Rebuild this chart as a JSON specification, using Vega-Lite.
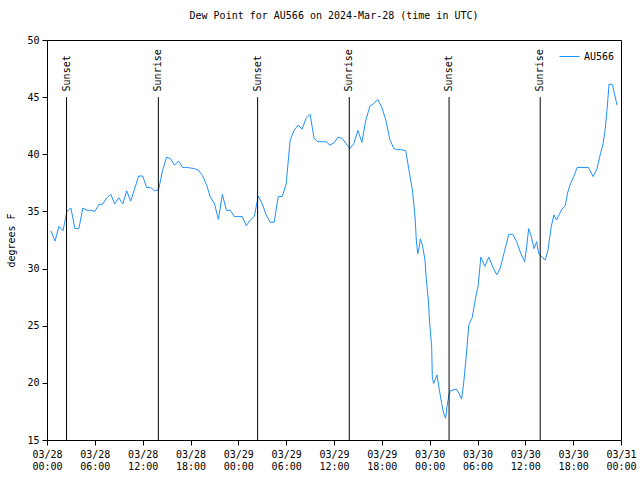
{
  "$schema": "https://vega.github.io/schema/vega-lite/v6.json",
  "width": 574,
  "height": 400,
  "autosize": "none",
  "padding": {"left": 47, "top": 40, "right": 19, "bottom": 40},
  "background": "white",
  "title": {"text": "Dew Point for AU566 on 2024-Mar-28 (time in UTC)", "font": "DejaVu Sans Mono", "fontSize": 10, "fontWeight": "normal", "color": "black", "offset": 14},
  "config": {
    "view": {"stroke": "black", "strokeWidth": 1},
    "axis": {"domain": false, "grid": false, "labelFont": "DejaVu Sans Mono", "labelFontSize": 10, "labelColor": "black", "tickColor": "black", "tickWidth": 1, "titleFont": "DejaVu Sans Mono", "titleFontSize": 10, "titleFontWeight": "normal", "titleColor": "black"}
  },
  "datasets": {
    "dew": [
      {"t": "2024-03-28T00:30:00Z", "v": 33.3, "s": "AU566"},
      {"t": "2024-03-28T01:00:00Z", "v": 32.4, "s": "AU566"},
      {"t": "2024-03-28T01:30:00Z", "v": 33.7, "s": "AU566"},
      {"t": "2024-03-28T02:00:00Z", "v": 33.3, "s": "AU566"},
      {"t": "2024-03-28T02:30:00Z", "v": 35.0, "s": "AU566"},
      {"t": "2024-03-28T03:00:00Z", "v": 35.3, "s": "AU566"},
      {"t": "2024-03-28T03:30:00Z", "v": 33.5, "s": "AU566"},
      {"t": "2024-03-28T04:00:00Z", "v": 33.5, "s": "AU566"},
      {"t": "2024-03-28T04:30:00Z", "v": 35.3, "s": "AU566"},
      {"t": "2024-03-28T05:00:00Z", "v": 35.1, "s": "AU566"},
      {"t": "2024-03-28T05:30:00Z", "v": 35.1, "s": "AU566"},
      {"t": "2024-03-28T06:00:00Z", "v": 35.0, "s": "AU566"},
      {"t": "2024-03-28T06:30:00Z", "v": 35.6, "s": "AU566"},
      {"t": "2024-03-28T07:00:00Z", "v": 35.65, "s": "AU566"},
      {"t": "2024-03-28T07:30:00Z", "v": 36.2, "s": "AU566"},
      {"t": "2024-03-28T08:00:00Z", "v": 36.5, "s": "AU566"},
      {"t": "2024-03-28T08:30:00Z", "v": 35.65, "s": "AU566"},
      {"t": "2024-03-28T09:00:00Z", "v": 36.2, "s": "AU566"},
      {"t": "2024-03-28T09:30:00Z", "v": 35.65, "s": "AU566"},
      {"t": "2024-03-28T10:00:00Z", "v": 36.8, "s": "AU566"},
      {"t": "2024-03-28T10:30:00Z", "v": 35.9, "s": "AU566"},
      {"t": "2024-03-28T11:00:00Z", "v": 37.0, "s": "AU566"},
      {"t": "2024-03-28T11:30:00Z", "v": 38.1, "s": "AU566"},
      {"t": "2024-03-28T12:00:00Z", "v": 38.1, "s": "AU566"},
      {"t": "2024-03-28T12:30:00Z", "v": 37.1, "s": "AU566"},
      {"t": "2024-03-28T13:00:00Z", "v": 37.1, "s": "AU566"},
      {"t": "2024-03-28T13:30:00Z", "v": 36.8, "s": "AU566"},
      {"t": "2024-03-28T14:00:00Z", "v": 36.9, "s": "AU566"},
      {"t": "2024-03-28T14:30:00Z", "v": 38.6, "s": "AU566"},
      {"t": "2024-03-28T15:00:00Z", "v": 39.75, "s": "AU566"},
      {"t": "2024-03-28T15:30:00Z", "v": 39.6, "s": "AU566"},
      {"t": "2024-03-28T16:00:00Z", "v": 39.05, "s": "AU566"},
      {"t": "2024-03-28T16:30:00Z", "v": 39.4, "s": "AU566"},
      {"t": "2024-03-28T17:00:00Z", "v": 38.85, "s": "AU566"},
      {"t": "2024-03-28T17:30:00Z", "v": 38.85, "s": "AU566"},
      {"t": "2024-03-28T18:00:00Z", "v": 38.8, "s": "AU566"},
      {"t": "2024-03-28T18:30:00Z", "v": 38.75, "s": "AU566"},
      {"t": "2024-03-28T19:00:00Z", "v": 38.6, "s": "AU566"},
      {"t": "2024-03-28T19:30:00Z", "v": 38.15, "s": "AU566"},
      {"t": "2024-03-28T20:00:00Z", "v": 37.35, "s": "AU566"},
      {"t": "2024-03-28T20:30:00Z", "v": 36.25, "s": "AU566"},
      {"t": "2024-03-28T21:00:00Z", "v": 35.7, "s": "AU566"},
      {"t": "2024-03-28T21:30:00Z", "v": 34.3, "s": "AU566"},
      {"t": "2024-03-28T22:00:00Z", "v": 36.5, "s": "AU566"},
      {"t": "2024-03-28T22:30:00Z", "v": 35.1, "s": "AU566"},
      {"t": "2024-03-28T23:00:00Z", "v": 35.1, "s": "AU566"},
      {"t": "2024-03-28T23:30:00Z", "v": 34.55, "s": "AU566"},
      {"t": "2024-03-29T00:00:00Z", "v": 34.55, "s": "AU566"},
      {"t": "2024-03-29T00:30:00Z", "v": 34.55, "s": "AU566"},
      {"t": "2024-03-29T01:00:00Z", "v": 33.75, "s": "AU566"},
      {"t": "2024-03-29T01:30:00Z", "v": 34.25, "s": "AU566"},
      {"t": "2024-03-29T02:00:00Z", "v": 34.55, "s": "AU566"},
      {"t": "2024-03-29T02:30:00Z", "v": 36.35, "s": "AU566"},
      {"t": "2024-03-29T03:00:00Z", "v": 35.65, "s": "AU566"},
      {"t": "2024-03-29T03:30:00Z", "v": 34.7, "s": "AU566"},
      {"t": "2024-03-29T04:00:00Z", "v": 34.05, "s": "AU566"},
      {"t": "2024-03-29T04:30:00Z", "v": 34.05, "s": "AU566"},
      {"t": "2024-03-29T05:00:00Z", "v": 36.3, "s": "AU566"},
      {"t": "2024-03-29T05:30:00Z", "v": 36.3, "s": "AU566"},
      {"t": "2024-03-29T06:00:00Z", "v": 37.4, "s": "AU566"},
      {"t": "2024-03-29T06:30:00Z", "v": 41.25, "s": "AU566"},
      {"t": "2024-03-29T07:00:00Z", "v": 42.1, "s": "AU566"},
      {"t": "2024-03-29T07:30:00Z", "v": 42.55, "s": "AU566"},
      {"t": "2024-03-29T08:00:00Z", "v": 42.2, "s": "AU566"},
      {"t": "2024-03-29T08:30:00Z", "v": 43.15, "s": "AU566"},
      {"t": "2024-03-29T09:00:00Z", "v": 43.5, "s": "AU566"},
      {"t": "2024-03-29T09:30:00Z", "v": 41.4, "s": "AU566"},
      {"t": "2024-03-29T10:00:00Z", "v": 41.1, "s": "AU566"},
      {"t": "2024-03-29T10:30:00Z", "v": 41.1, "s": "AU566"},
      {"t": "2024-03-29T11:00:00Z", "v": 41.1, "s": "AU566"},
      {"t": "2024-03-29T11:30:00Z", "v": 40.8, "s": "AU566"},
      {"t": "2024-03-29T12:00:00Z", "v": 41.0, "s": "AU566"},
      {"t": "2024-03-29T12:30:00Z", "v": 41.5, "s": "AU566"},
      {"t": "2024-03-29T13:00:00Z", "v": 41.4, "s": "AU566"},
      {"t": "2024-03-29T13:30:00Z", "v": 40.95, "s": "AU566"},
      {"t": "2024-03-29T14:00:00Z", "v": 40.5, "s": "AU566"},
      {"t": "2024-03-29T14:30:00Z", "v": 40.95, "s": "AU566"},
      {"t": "2024-03-29T15:00:00Z", "v": 42.1, "s": "AU566"},
      {"t": "2024-03-29T15:30:00Z", "v": 41.05, "s": "AU566"},
      {"t": "2024-03-29T16:00:00Z", "v": 43.0, "s": "AU566"},
      {"t": "2024-03-29T16:30:00Z", "v": 44.2, "s": "AU566"},
      {"t": "2024-03-29T17:00:00Z", "v": 44.45, "s": "AU566"},
      {"t": "2024-03-29T17:30:00Z", "v": 44.8, "s": "AU566"},
      {"t": "2024-03-29T18:00:00Z", "v": 44.1, "s": "AU566"},
      {"t": "2024-03-29T18:30:00Z", "v": 43.0, "s": "AU566"},
      {"t": "2024-03-29T19:00:00Z", "v": 41.3, "s": "AU566"},
      {"t": "2024-03-29T19:30:00Z", "v": 40.5, "s": "AU566"},
      {"t": "2024-03-29T20:00:00Z", "v": 40.4, "s": "AU566"},
      {"t": "2024-03-29T20:30:00Z", "v": 40.4, "s": "AU566"},
      {"t": "2024-03-29T21:00:00Z", "v": 40.3, "s": "AU566"},
      {"t": "2024-03-29T21:30:00Z", "v": 38.2, "s": "AU566"},
      {"t": "2024-03-29T21:50:00Z", "v": 36.9, "s": "AU566"},
      {"t": "2024-03-29T22:10:00Z", "v": 34.5, "s": "AU566"},
      {"t": "2024-03-29T22:20:00Z", "v": 32.4, "s": "AU566"},
      {"t": "2024-03-29T22:30:00Z", "v": 31.3, "s": "AU566"},
      {"t": "2024-03-29T22:40:00Z", "v": 31.8, "s": "AU566"},
      {"t": "2024-03-29T22:50:00Z", "v": 32.6, "s": "AU566"},
      {"t": "2024-03-29T23:05:00Z", "v": 32.05, "s": "AU566"},
      {"t": "2024-03-29T23:25:00Z", "v": 30.75, "s": "AU566"},
      {"t": "2024-03-29T23:35:00Z", "v": 29.0, "s": "AU566"},
      {"t": "2024-03-29T23:50:00Z", "v": 27.25, "s": "AU566"},
      {"t": "2024-03-30T00:00:00Z", "v": 25.2, "s": "AU566"},
      {"t": "2024-03-30T00:15:00Z", "v": 23.2, "s": "AU566"},
      {"t": "2024-03-30T00:20:00Z", "v": 20.5, "s": "AU566"},
      {"t": "2024-03-30T00:30:00Z", "v": 19.95, "s": "AU566"},
      {"t": "2024-03-30T00:55:00Z", "v": 20.7, "s": "AU566"},
      {"t": "2024-03-30T01:15:00Z", "v": 19.25, "s": "AU566"},
      {"t": "2024-03-30T01:30:00Z", "v": 18.2, "s": "AU566"},
      {"t": "2024-03-30T01:45:00Z", "v": 17.35, "s": "AU566"},
      {"t": "2024-03-30T02:00:00Z", "v": 16.9, "s": "AU566"},
      {"t": "2024-03-30T02:10:00Z", "v": 17.9, "s": "AU566"},
      {"t": "2024-03-30T02:25:00Z", "v": 18.95, "s": "AU566"},
      {"t": "2024-03-30T02:35:00Z", "v": 19.3, "s": "AU566"},
      {"t": "2024-03-30T03:20:00Z", "v": 19.45, "s": "AU566"},
      {"t": "2024-03-30T03:40:00Z", "v": 19.1, "s": "AU566"},
      {"t": "2024-03-30T04:00:00Z", "v": 18.57, "s": "AU566"},
      {"t": "2024-03-30T04:15:00Z", "v": 19.9, "s": "AU566"},
      {"t": "2024-03-30T04:35:00Z", "v": 22.3, "s": "AU566"},
      {"t": "2024-03-30T04:55:00Z", "v": 25.1, "s": "AU566"},
      {"t": "2024-03-30T05:20:00Z", "v": 25.7, "s": "AU566"},
      {"t": "2024-03-30T05:45:00Z", "v": 27.4, "s": "AU566"},
      {"t": "2024-03-30T06:05:00Z", "v": 28.5, "s": "AU566"},
      {"t": "2024-03-30T06:25:00Z", "v": 31.0, "s": "AU566"},
      {"t": "2024-03-30T06:55:00Z", "v": 30.2, "s": "AU566"},
      {"t": "2024-03-30T07:25:00Z", "v": 31.0, "s": "AU566"},
      {"t": "2024-03-30T07:55:00Z", "v": 30.15, "s": "AU566"},
      {"t": "2024-03-30T08:25:00Z", "v": 29.45, "s": "AU566"},
      {"t": "2024-03-30T08:50:00Z", "v": 30.0, "s": "AU566"},
      {"t": "2024-03-30T09:25:00Z", "v": 31.6, "s": "AU566"},
      {"t": "2024-03-30T09:55:00Z", "v": 33.0, "s": "AU566"},
      {"t": "2024-03-30T10:25:00Z", "v": 33.0, "s": "AU566"},
      {"t": "2024-03-30T10:55:00Z", "v": 32.35, "s": "AU566"},
      {"t": "2024-03-30T11:25:00Z", "v": 31.35, "s": "AU566"},
      {"t": "2024-03-30T11:55:00Z", "v": 30.6, "s": "AU566"},
      {"t": "2024-03-30T12:10:00Z", "v": 31.9, "s": "AU566"},
      {"t": "2024-03-30T12:25:00Z", "v": 33.5, "s": "AU566"},
      {"t": "2024-03-30T12:45:00Z", "v": 32.8, "s": "AU566"},
      {"t": "2024-03-30T13:05:00Z", "v": 31.75, "s": "AU566"},
      {"t": "2024-03-30T13:25:00Z", "v": 32.35, "s": "AU566"},
      {"t": "2024-03-30T13:40:00Z", "v": 31.35, "s": "AU566"},
      {"t": "2024-03-30T14:05:00Z", "v": 31.0, "s": "AU566"},
      {"t": "2024-03-30T14:30:00Z", "v": 30.75, "s": "AU566"},
      {"t": "2024-03-30T14:50:00Z", "v": 31.6, "s": "AU566"},
      {"t": "2024-03-30T15:15:00Z", "v": 33.65, "s": "AU566"},
      {"t": "2024-03-30T15:35:00Z", "v": 34.7, "s": "AU566"},
      {"t": "2024-03-30T15:55:00Z", "v": 34.25, "s": "AU566"},
      {"t": "2024-03-30T16:20:00Z", "v": 34.85, "s": "AU566"},
      {"t": "2024-03-30T16:35:00Z", "v": 35.2, "s": "AU566"},
      {"t": "2024-03-30T17:00:00Z", "v": 35.5, "s": "AU566"},
      {"t": "2024-03-30T17:20:00Z", "v": 36.7, "s": "AU566"},
      {"t": "2024-03-30T17:40:00Z", "v": 37.45, "s": "AU566"},
      {"t": "2024-03-30T18:05:00Z", "v": 38.05, "s": "AU566"},
      {"t": "2024-03-30T18:30:00Z", "v": 38.85, "s": "AU566"},
      {"t": "2024-03-30T19:55:00Z", "v": 38.85, "s": "AU566"},
      {"t": "2024-03-30T20:30:00Z", "v": 38.05, "s": "AU566"},
      {"t": "2024-03-30T21:00:00Z", "v": 38.75, "s": "AU566"},
      {"t": "2024-03-30T21:20:00Z", "v": 39.8, "s": "AU566"},
      {"t": "2024-03-30T21:45:00Z", "v": 40.95, "s": "AU566"},
      {"t": "2024-03-30T22:00:00Z", "v": 42.1, "s": "AU566"},
      {"t": "2024-03-30T22:15:00Z", "v": 43.9, "s": "AU566"},
      {"t": "2024-03-30T22:30:00Z", "v": 46.15, "s": "AU566"},
      {"t": "2024-03-30T22:55:00Z", "v": 46.1, "s": "AU566"},
      {"t": "2024-03-30T23:10:00Z", "v": 45.35, "s": "AU566"},
      {"t": "2024-03-30T23:30:00Z", "v": 44.3, "s": "AU566"}
    ],
    "sun": [
      {"t": "2024-03-28T02:27:00Z", "label": "Sunset"},
      {"t": "2024-03-28T13:58:00Z", "label": "Sunrise"},
      {"t": "2024-03-29T02:25:00Z", "label": "Sunset"},
      {"t": "2024-03-29T13:55:00Z", "label": "Sunrise"},
      {"t": "2024-03-30T02:26:00Z", "label": "Sunset"},
      {"t": "2024-03-30T13:52:00Z", "label": "Sunrise"}
    ]
  },
  "layer": [
    {
      "data": {"name": "dew"},
      "mark": {"type": "line", "strokeWidth": 1, "interpolate": "linear"},
      "encoding": {
        "x": {
          "field": "t", "type": "temporal",
          "scale": {"type": "utc", "domain": [{"year": 2024, "month": 3, "date": 28, "hours": 0, "utc": true}, {"year": 2024, "month": 3, "date": 31, "hours": 0, "utc": true}]},
          "axis": {
            "orient": "bottom", "title": null,
            "values": [
              {"year": 2024, "month": 3, "date": 28, "hours": 0, "utc": true},
              {"year": 2024, "month": 3, "date": 28, "hours": 6, "utc": true},
              {"year": 2024, "month": 3, "date": 28, "hours": 12, "utc": true},
              {"year": 2024, "month": 3, "date": 28, "hours": 18, "utc": true},
              {"year": 2024, "month": 3, "date": 29, "hours": 0, "utc": true},
              {"year": 2024, "month": 3, "date": 29, "hours": 6, "utc": true},
              {"year": 2024, "month": 3, "date": 29, "hours": 12, "utc": true},
              {"year": 2024, "month": 3, "date": 29, "hours": 18, "utc": true},
              {"year": 2024, "month": 3, "date": 30, "hours": 0, "utc": true},
              {"year": 2024, "month": 3, "date": 30, "hours": 6, "utc": true},
              {"year": 2024, "month": 3, "date": 30, "hours": 12, "utc": true},
              {"year": 2024, "month": 3, "date": 30, "hours": 18, "utc": true},
              {"year": 2024, "month": 3, "date": 31, "hours": 0, "utc": true}
            ],
            "tickSize": 5,
            "labelExpr": "[utcFormat(datum.value, '%m/%d'), utcFormat(datum.value, '%H:%M')]",
            "labelPadding": 4, "labelOverlap": false, "labelFlush": false
          }
        },
        "y": {
          "field": "v", "type": "quantitative",
          "scale": {"domain": [15, 50], "nice": false, "zero": false},
          "axis": {"orient": "left", "title": "degrees F", "values": [15, 20, 25, 30, 35, 40, 45, 50], "tickSize": 5, "labelPadding": 3, "titlePadding": 10}
        },
        "color": {
          "field": "s", "type": "nominal",
          "scale": {"range": ["#1e90ff"]},
          "legend": {
            "title": null, "orient": "top-right", "offset": 6,
            "symbolType": "stroke", "symbolSize": 400, "symbolStrokeWidth": 1,
            "padding": 0,
            "labelFont": "DejaVu Sans Mono", "labelFontSize": 10, "labelColor": "black"
          }
        }
      }
    },
    {
      "data": {"name": "sun"},
      "mark": {"type": "rule", "color": "black", "strokeWidth": 1},
      "encoding": {
        "x": {"field": "t", "type": "temporal"},
        "y": {"datum": 15, "type": "quantitative"},
        "y2": {"datum": 45}
      }
    },
    {
      "data": {"name": "sun"},
      "mark": {"type": "text", "angle": 270, "align": "left", "baseline": "middle", "font": "DejaVu Sans Mono", "fontSize": 10, "color": "black"},
      "encoding": {
        "x": {"field": "t", "type": "temporal"},
        "y": {"datum": 45.5, "type": "quantitative"},
        "text": {"field": "label"}
      }
    }
  ]
}
